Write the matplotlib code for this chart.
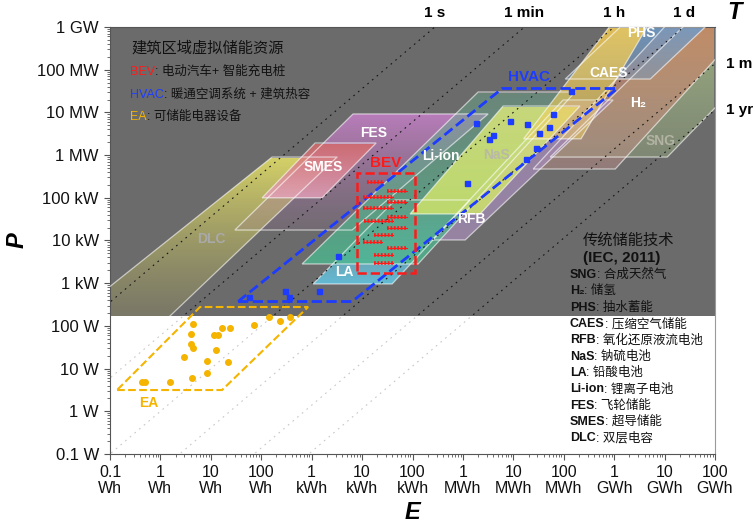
import numpy as np
import matplotlib
matplotlib.use('Agg')
import matplotlib.pyplot as plt
from matplotlib import ticker
from matplotlib.colors import to_rgb
from matplotlib.patches import Polygon

plt.rcParams['font.family'] = ['Liberation Sans', 'Noto Sans CJK SC']

# ---------------- axes ----------------
x_ticks = [0.1, 1, 10, 100, 1e3, 1e4, 1e5, 1e6, 1e7, 1e8, 1e9, 1e10, 1e11]   # Wh
x_labels = ['0.1\nWh', '1\nWh', '10\nWh', '100\nWh', '1\nkWh', '10\nkWh', '100\nkWh',
            '1\nMWh', '10\nMWh', '100\nMWh', '1\nGWh', '10\nGWh', '100\nGWh']
y_ticks = [0.1, 1, 10, 100, 1e3, 1e4, 1e5, 1e6, 1e7, 1e8, 1e9]                 # W
y_labels = ['0.1 W', '1 W', '10 W', '100 W', '1 kW', '10 kW', '100 kW',
            '1 MW', '10 MW', '100 MW', '1 GW']
grey_floor = 171   # W, lower edge of the grey IEC field

# discharge-time reference lines (s)
t_lines = [1, 60, 3600, 86400, 2.592e6, 3.1536e7]
t_names = ['1 s', '1 min', '1 h', '1 d', '1 m', '1 yr']

# ---------------- IEC technology regions: (E [Wh], P [W]) ----------------
dlc = [(0.0185, 171), (1.55, 171), (3190, 9.0e5), (164, 9.0e5)]
smes = [(104, 1.0e5), (1610, 1.0e5), (19000, 1.92e6), (1170, 1.92e6)]
fes = [(30, 1.76e4), (6340, 1.76e4), (3.16e6, 9.2e6), (6630, 9.2e6)]
la = [(1070, 960), (39400, 960), (1.39e6, 8.9e4), (45200, 8.9e4)]
li_ion = [(645, 2820), (1.29e5, 2820), (1.68e8, 3.0e7), (2.0e6, 3.0e7)]
nas = [(8.96e4, 4.18e4), (2.19e6, 4.18e4), (2.1e8, 1.41e7), (6.28e6, 1.41e7)]
rfb = [(2.45e5, 1.03e4), (1.11e6, 1.03e4), (9.55e8, 1.95e7), (9.7e7, 1.95e7)]
caes = [(1.6e7, 2.4e6), (2.2e8, 2.4e6), (4.5e9, 1e9), (8.0e8, 1e9)]
phs = [(1.07e8, 6.05e7), (5.2e9, 6.05e7), (6.4e10, 1e9), (1.32e9, 1e9)]
h2 = [(2.47e7, 4.72e5), (1.05e9, 4.72e5), (7.9e11, 2.5e9), (2.04e10, 2.5e9)]
sng = [(5.4e7, 9.0e5), (1.13e10, 9.0e5), (4.9e12, 1.46e9), (3.2e10, 1.46e9)]

# label name, position (E, P), colour
tech_labels = [('DLC', 10.4, 1.07e4, '#a9a9a9'), ('SMES', 1680, 5.3e5, 'white'),
               ('FES', 17300, 3.3e6, 'white'), ('LA', 4400, 1830, 'white'),
               ('Li-ion', 3.69e5, 9.5e5, 'white'), ('NaS', 4.56e6, 1.0e6, '#b9b9a6'),
               ('RFB', 1.5e6, 3.2e4, 'white'), ('CAES', 7.6e8, 8.4e7, 'white'),
               ('PHS', 3.4e9, 7.2e8, 'white'), ('H₂', 3.0e9, 1.66e7, 'white'),
               ('SNG', 8.2e9, 2.14e6, '#b3b3a3')]

# ---------------- building virtual storage ----------------
hvac_poly = [(34.7, 372), (6340, 372), (1.15e9, 3.63e7), (6.0e6, 3.63e7)]
hvac_E = [57, 297, 348, 1400, 3270, 1.19e6, 1.80e6, 3.24e6, 3.88e6, 8.65e6,
          1.88e7, 3.25e7, 2.77e7, 1.77e7, 5.2e7, 6.17e7, 1.40e8]
hvac_P = [475, 657, 463, 657, 4400, 2.22e5, 5.56e6, 2.34e6, 2.96e6, 6.46e6,
          5.27e6, 3.35e6, 1.43e6, 8.11e5, 4.6e6, 9.3e6, 3.17e7]

bev_poly = [(7960, 1780), (1.13e5, 1780), (1.13e5, 3.71e5), (7960, 3.71e5)]
bev_E_lo = [12.4e3, 31.8e3, 10.6e3, 31.8e3, 10.6e3, 31.8e3, 11.0e3,
            31.8e3, 17.3e3, 10.6e3, 31.8e3, 17.3e3, 17.3e3]
bev_E_hi = [26.5e3, 79e3, 41.8e3, 77e3, 41.8e3, 77e3, 41.8e3,
            77e3, 41.8e3, 24.6e3, 77e3, 41.8e3, 41.8e3]
bev_P = [231e3, 147e3, 106e3, 78.5e3, 56.8e3, 36e3, 29e3,
         19.3e3, 13.5e3, 9.4e3, 6.8e3, 4.6e3, 3.0e3]

ea_poly = [(0.138, 3.15), (16.7, 3.15), (849, 277), (6.1, 277)]
ea_E = [0.43, 0.49, 1.55, 4.2, 8.3, 3.0, 8.3, 22, 12.5, 4.0, 4.4,
        4.0, 4.4, 11.7, 14, 17, 24, 72, 145, 240, 367]
ea_P = [4.8, 4.8, 4.8, 5.9, 8.0, 19, 15, 14, 28, 38, 31,
        64, 113, 61, 61, 88, 88, 105, 159, 128, 159]

legend_iec = [('SNG', '合成天然气'), ('H₂', '储氢'), ('PHS', '抽水蓄能'),
              ('CAES', '压缩空气储能'), ('RFB', '氧化还原液流电池'), ('NaS', '钠硫电池'),
              ('LA', '铅酸电池'), ('Li-ion', '锂离子电池'), ('FES', '飞轮储能'),
              ('SMES', '超导储能'), ('DLC', '双层电容')]

BLUE = '#1d3cff'
RED = '#ff1a1a'
ORANGE = '#f4b400'


def grad_fill(ax, verts, c_top, c_bot, a_top, a_bot, z, open_bottom=False):
    # vertical colour/alpha gradient clipped to the polygon
    poly = Polygon(verts, closed=True, facecolor='none', edgecolor='none')
    ax.add_patch(poly)
    E = [v[0] for v in verts]
    P = [v[1] for v in verts]
    p_lo, p_hi = min(P), max(P)
    n = 20000
    rows = np.linspace(p_hi, p_lo, n)
    t = (np.log10(p_hi) - np.log10(rows)) / (np.log10(p_hi) - np.log10(p_lo))
    c0, c1 = np.array(to_rgb(c_top)), np.array(to_rgb(c_bot))
    img = np.zeros((n, 1, 4))
    img[:, 0, :3] = c0 * (1 - t)[:, None] + c1 * t[:, None]
    img[:, 0, 3] = a_top * (1 - t) + a_bot * t
    im = ax.imshow(img, extent=(min(E), max(E), p_lo, p_hi), origin='upper',
                   aspect='auto', zorder=z)
    im.set_clip_path(poly)
    if open_bottom:
        ring = [verts[1], verts[2], verts[3], verts[0]]
        ax.plot([v[0] for v in ring], [v[1] for v in ring], color='white',
                lw=0.9, alpha=0.6, zorder=3.5)
    else:
        ax.add_patch(Polygon(verts, closed=True, fill=False, edgecolor='white',
                             lw=0.9, alpha=0.6, zorder=3.5))


fig = plt.figure(figsize=(7.55, 5.27), dpi=100)
ax = fig.add_axes([110 / 755, 73 / 527, 605 / 755, 427 / 527])
ax.set_xscale('log')
ax.set_yscale('log')

grey = ax.axhspan(grey_floor, 1e9, color='#6b6b6b', lw=0, zorder=1)

# discharge-time lines
p_line = np.array([1e-3, 1e11])
for T in t_lines:
    e_line = p_line * T / 3600
    ax.plot(e_line, p_line, color='#c8c8c8', lw=0.8, ls=(0, (1.5, 4)), zorder=0.5)
    ln, = ax.plot(e_line, p_line, color='#151515', lw=0.8, ls=(0, (1.5, 4)), zorder=3.6)
    ln.set_clip_path(grey)

# technology regions
grad_fill(ax, dlc, '#dcd868', '#8e8a62', 0.95, 0.45, 2.0, open_bottom=True)
grad_fill(ax, fes, '#c27fc4', '#a070a0', 0.9, 0.15, 2.1)
grad_fill(ax, smes, '#d46868', '#e8a3bd', 0.85, 0.8, 2.2)
grad_fill(ax, sng, '#a6bc86', '#98ac80', 0.85, 0.45, 2.3)
grad_fill(ax, h2, '#c9855e', '#bb8f88', 0.9, 0.5, 2.4)
grad_fill(ax, phs, '#6e9ccc', '#7a98b8', 0.85, 0.55, 2.5)
grad_fill(ax, rfb, '#a88cbc', '#a08ab0', 0.75, 0.8, 2.6)
grad_fill(ax, la, '#7cc0d0', '#62c4e0', 0.1, 0.9, 2.7)
grad_fill(ax, li_ion, '#6aa88c', '#4cb890', 0.45, 0.8, 2.8)
grad_fill(ax, nas, '#e0ec7c', '#cfe46a', 0.8, 0.85, 2.9)
grad_fill(ax, caes, '#f6cc52', '#f0d060', 0.85, 0.5, 3.0)

for name, e, p, c in tech_labels:
    ax.text(e, p, name, color=c, fontsize=10, fontweight='bold',
            ha='center', va='center', zorder=6)

# HVAC
ax.add_patch(Polygon(hvac_poly, closed=True, fill=False, edgecolor=BLUE,
                     lw=2, ls='--', zorder=5))
ax.plot(hvac_E, hvac_P, 's', color=BLUE, ms=3.6, zorder=5)
ax.text(2.06e7, 6.7e7, 'HVAC', color=BLUE, fontsize=11, fontweight='bold',
        ha='center', va='center', zorder=6)

# BEV
ax.add_patch(Polygon(bev_poly, closed=True, fill=False, edgecolor=RED,
                     lw=1.8, ls='--', zorder=5))
for lo, hi, p in zip(bev_E_lo, bev_E_hi, bev_P):
    ax.plot([lo, hi], [p, p], color=RED, lw=0.8, zorder=5)
    ax.plot([lo, hi], [p, p], color=RED, lw=2.6, ls=(0, (0.5, 0.45)),
            solid_capstyle='butt', zorder=5)
ax.text(2.99e4, 6.5e5, 'BEV', color=RED, fontsize=11, fontweight='bold',
        ha='center', va='center', zorder=6)

# EA
ax.add_patch(Polygon(ea_poly, closed=True, fill=False, edgecolor=ORANGE,
                     lw=1.5, ls='--', zorder=5))
ax.plot(ea_E, ea_P, 'o', color=ORANGE, ms=4, zorder=5)
ax.text(0.59, 1.56, 'EA', color=ORANGE, fontsize=10, fontweight='bold',
        ha='center', va='center', zorder=6)

# axes styling
ax.set_xlim(0.1, 1e11)
ax.set_ylim(0.1, 1e9)
ax.set_xticks(x_ticks)
ax.set_xticklabels(x_labels, fontsize=11.5, linespacing=1.05)
ax.set_yticks(y_ticks)
ax.set_yticklabels(y_labels, fontsize=12)
ax.xaxis.set_minor_locator(ticker.LogLocator(base=10, subs=np.arange(2, 10), numticks=100))
ax.yaxis.set_minor_locator(ticker.LogLocator(base=10, subs=np.arange(2, 10), numticks=100))
ax.xaxis.set_minor_formatter(ticker.NullFormatter())
ax.yaxis.set_minor_formatter(ticker.NullFormatter())
ax.tick_params(which='major', direction='out', length=4, width=0.8, color='#555555',
               labelcolor='#111111', pad=4)
ax.tick_params(which='minor', direction='out', length=2.5, width=0.6, color='#555555')
for s in ['left', 'bottom', 'top']:
    ax.spines[s].set_color('#555555')
ax.spines['right'].set_color('#9a9a9a')

ax.set_xlabel('E', fontsize=17, fontweight='bold', fontstyle='italic', labelpad=4)
ax.set_ylabel('P', fontsize=17, fontweight='bold', fontstyle='italic', labelpad=6)

# time labels on the top and right
for T, name in zip(t_lines[:4], t_names[:4]):
    ax.text(1e9 * T / 3600, 1.033, name, transform=ax.get_xaxis_transform(),
            fontsize=11, fontweight='bold', ha='center', va='center')
for T, name in zip(t_lines[4:], t_names[4:]):
    ax.text(1.018, 1e11 * 3600 / T, name, transform=ax.get_yaxis_transform(),
            fontsize=11, fontweight='bold', ha='left', va='center', clip_on=False)
ax.text(1.033, 1.033, 'T', transform=ax.transAxes, fontsize=17, fontweight='bold',
        fontstyle='italic', ha='center', va='center')


def two_part(x, y, head, tail, head_color, size, head_weight='normal'):
    t = ax.text(x, y, head, color=head_color, fontsize=size, fontweight=head_weight,
                transform=ax.transAxes, ha='left', va='center', zorder=7)
    ax.annotate(tail, xy=(1, 0.5), xycoords=t, fontsize=size, color='#111111',
                ha='left', va='center', zorder=7)


# virtual storage legend (top left)
ax.text(0.036, 0.951, '建筑区域虚拟储能资源', transform=ax.transAxes, fontsize=11,
        color='#111111', ha='left', va='center', zorder=7)
two_part(0.033, 0.895, 'BEV', ': 电动汽车+ 智能充电桩', RED, 9)
two_part(0.033, 0.841, 'HVAC', ': 暖通空调系统 + 建筑热容', BLUE, 9)
two_part(0.033, 0.789, 'EA', ': 可储能电器设备', ORANGE, 9)

# IEC legend (bottom right)
ax.text(0.782, 0.501, '传统储能技术', transform=ax.transAxes, fontsize=11,
        color='#111111', ha='left', va='center', zorder=7)
ax.text(0.782, 0.459, '(IEC, 2011)', transform=ax.transAxes, fontsize=11,
        fontweight='bold', color='#111111', ha='left', va='center', zorder=7)
for i, (abbr, desc) in enumerate(legend_iec):
    two_part(0.760, 0.419 - i * 0.0382, abbr, ': ' + desc, '#111111', 9, 'bold')

fig.savefig('out.png', dpi=100)
